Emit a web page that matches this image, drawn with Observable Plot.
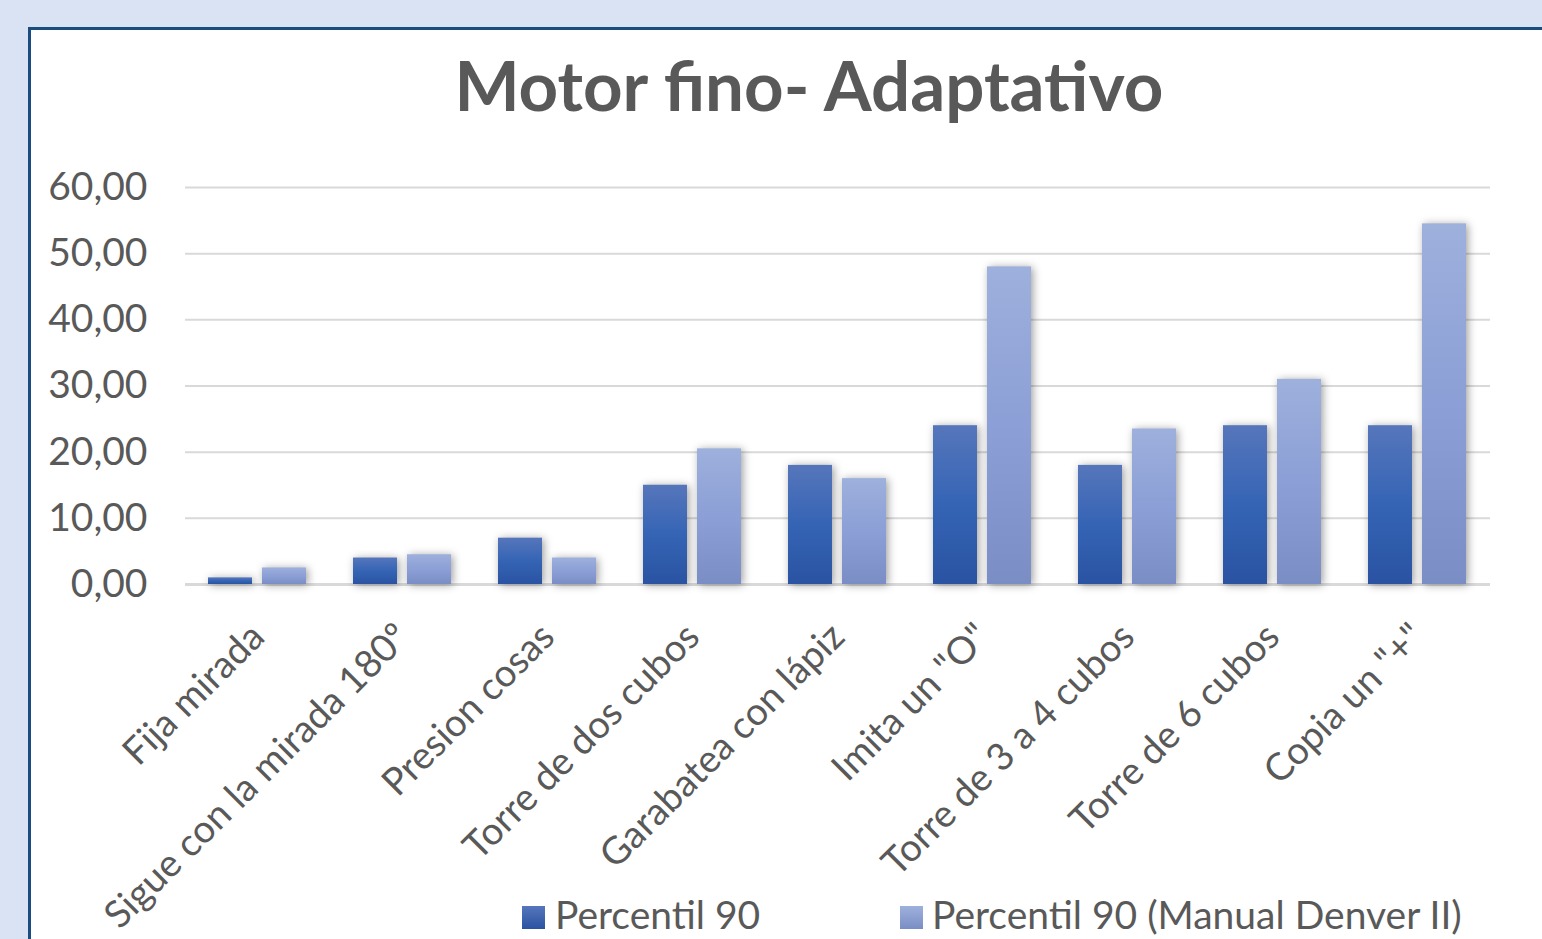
<!DOCTYPE html>
<html>
<head>
<meta charset="utf-8">
<script src="https://cdn.jsdelivr.net/npm/d3@7"></script>
<script src="https://cdn.jsdelivr.net/npm/@observablehq/plot@0.6"></script>
<style>
  html, body { margin: 0; padding: 0; width: 1542px; height: 939px; overflow: hidden; background: #dae3f3; }
  #box { position: absolute; left: 28px; top: 27px; width: 1600px; height: 1000px; border: 3px solid #1b4b7f; background: #fff; box-sizing: border-box; }
  #title { position: absolute; left: 0; top: 45px; width: 1618px; text-align: center; font-family: "Lato", sans-serif; font-weight: bold; font-size: 69px; line-height: 80px; color: #595959; white-space: nowrap; }
  #chart { position: absolute; left: 0; top: 0; }
  #chart g[aria-label="bar"] { filter: drop-shadow(2px 1px 4px rgba(0,0,0,0.38)); }
  #chart g[aria-label="fx-axis tick label"] text { font-size: 38px; }
  .leg { position: absolute; font-family: Lato, sans-serif; font-size: 39px; line-height: 40px; color: #595959; white-space: nowrap; }
  .sw { position: absolute; width: 23px; height: 23px; }
</style>
</head>
<body>
<svg width="0" height="0" style="position:absolute">
  <defs>
    <linearGradient id="gDark" x1="0" y1="0" x2="0" y2="1">
      <stop offset="0" stop-color="#5676bb"/>
      <stop offset="0.5" stop-color="#3564b5"/>
      <stop offset="1" stop-color="#2a53a2"/>
    </linearGradient>
    <linearGradient id="gLight" x1="0" y1="0" x2="0" y2="1">
      <stop offset="0" stop-color="#9eb0dc"/>
      <stop offset="0.5" stop-color="#8c9fd6"/>
      <stop offset="1" stop-color="#7a8ec5"/>
    </linearGradient>
  </defs>
</svg>
<div id="box"></div>
<div id="title">Motor fino- Adaptativo</div>
<div id="chart"></div>
<div class="sw" style="left:522px;top:906px;background:linear-gradient(#5676bb,#2a53a2)"></div>
<div class="leg" style="left:555px;top:894px">Percentil 90</div>
<div class="sw" style="left:900px;top:906px;background:linear-gradient(#9eb0dc,#7a8ec5)"></div>
<div class="leg" style="left:932px;top:894px">Percentil 90 (Manual Denver II)</div>
<script>
const categories = [
  "Fija mirada",
  "Sigue con la mirada 180º",
  "Presion cosas",
  "Torre de dos cubos",
  "Garabatea con lápiz",
  "Imita un \"O\"",
  "Torre de 3 a 4 cubos",
  "Torre de 6 cubos",
  "Copia un \"+\""
];
const series = ["Percentil 90", "Percentil 90 (Manual Denver II)"];
const percentil90 = [1, 4, 7, 15, 18, 24, 18, 24, 24];
const denver = [2.5, 4.5, 4, 20.5, 16, 48, 23.5, 31, 54.5];
const yTicks = [0, 10, 20, 30, 40, 50, 60];

const rows = categories.flatMap((c, i) => [
  {cat: c, serie: series[0], value: percentil90[i]},
  {cat: c, serie: series[1], value: denver[i]}
]);
const fmt = d => d.toFixed(2).replace(".", ",");

const chart = Plot.plot({
  width: 1542,
  height: 939,
  marginLeft: 181,
  marginRight: 49,
  marginTop: 187,
  marginBottom: 355,
  style: {background: "transparent", fontFamily: "Lato, sans-serif", fontSize: "39px", color: "#595959"},
  fx: {domain: categories, padding: 0, label: null, axis: "bottom", tickRotate: -45, tickSize: 0, tickPadding: 46},
  x: {domain: series, axis: null, paddingInner: 0.18, paddingOuter: 0.41},
  y: {domain: [0, 60], ticks: yTicks, tickFormat: fmt, tickSize: 0, tickPadding: 38, label: null},
  marks: [
    Plot.ruleY(yTicks.filter(v => v > 0), {stroke: "#d9d9d9", strokeWidth: 2}),
    Plot.ruleY([0], {stroke: "#d9d9d9", strokeWidth: 3}),
    Plot.barY(rows.filter(d => d.serie === series[0]), {fx: "cat", x: "serie", y: "value", fill: "url(#gDark)"}),
    Plot.barY(rows.filter(d => d.serie === series[1]), {fx: "cat", x: "serie", y: "value", fill: "url(#gLight)"})
  ]
});
document.getElementById("chart").appendChild(chart);
</script>
</body>
</html>
